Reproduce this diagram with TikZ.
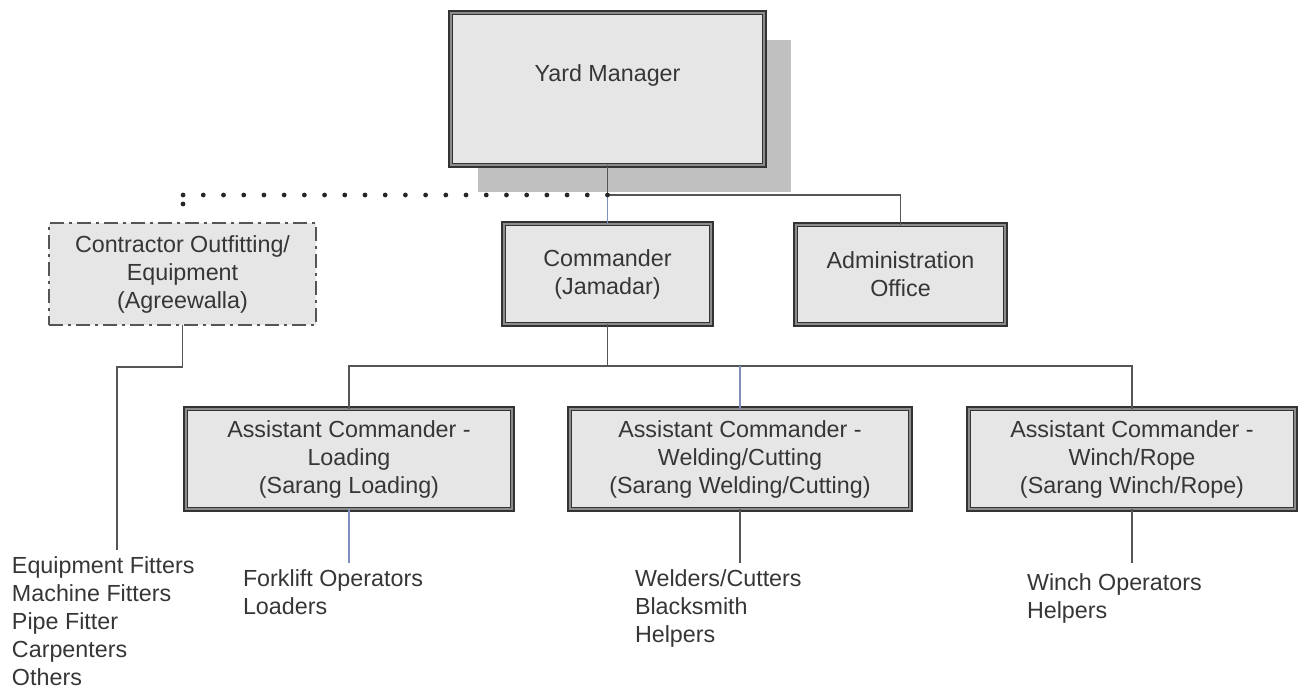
\documentclass[tikz,border=0pt]{standalone}
\usepackage{fontspec}
\setmainfont{Liberation Sans}
\usetikzlibrary{shadows}

\definecolor{boxfill}{HTML}{E6E6E6}
\definecolor{boxline}{HTML}{333333}
\definecolor{boxmid}{HTML}{8C8C8C}
\definecolor{shadowgray}{HTML}{C0C0C0}
\definecolor{connline}{HTML}{555555}
\definecolor{bluelink}{HTML}{7F8FBF}
\definecolor{txt}{HTML}{363636}

\newcommand{\orgfont}{\fontsize{23.3}{28}\selectfont}

\begin{document}
\begin{tikzpicture}[x=1pt, y=-1pt,
  orgbox/.style={draw=boxline, line width=1.6pt, double=boxmid, double distance=2.2pt,
    fill=boxfill, inner sep=0pt, outer sep=0pt, align=center, text=txt, font=\orgfont},
  extbox/.style={draw=connline, line width=2pt, dash pattern=on 14pt off 5pt on 3pt off 5pt,
    fill=boxfill, inner sep=0pt, outer sep=0pt, align=center, text=txt, font=\orgfont},
  staff/.style={anchor=north west, inner sep=0pt, outer sep=0pt, align=left, text=txt, font=\orgfont},
  conn/.style={draw=connline, line width=1.8pt},
  bluelinkline/.style={draw=bluelink, line width=1.2pt},
  dotline/.style={draw=black!85, line width=4.8pt, line cap=round, dash pattern=on 0pt off 20.21pt}
]
\useasboundingbox (0,0) rectangle (1303,691);

% top of the hierarchy
\node[orgbox, minimum width=313.5pt, minimum height=152.5pt, text height=17pt, text depth=32pt,
  drop shadow={shadow xshift=27pt, shadow yshift=-27pt, fill=shadowgray, opacity=1}]
  (ym) at (607.5,89) {Yard Manager};

% second level
\node[extbox, minimum width=267pt, minimum height=102pt] (con) at (182.5,274)
  {Contractor Outfitting/\\Equipment\\(Agreewalla)};
\node[orgbox, minimum width=207.5pt, minimum height=100.5pt] (cmd) at (607.5,274)
  {Commander\\(Jamadar)};
\node[orgbox, minimum width=209.5pt, minimum height=99.5pt] (adm) at (900.5,274.5)
  {Administration\\Office};

% assistant commanders
\node[orgbox, minimum width=326.5pt, minimum height=100.5pt] (ld) at (349,459)
  {Assistant Commander -\\Loading\\(Sarang Loading)};
\node[orgbox, minimum width=340.5pt, minimum height=100.5pt] (wd) at (740,459)
  {Assistant Commander -\\Welding/Cutting\\(Sarang Welding/Cutting)};
\node[orgbox, minimum width=326.5pt, minimum height=100.5pt] (wn) at (1132,459)
  {Assistant Commander -\\Winch/Rope\\(Sarang Winch/Rope)};

% staff lists
\node[staff] (fit) at (12,557)
  {Equipment Fitters\\Machine Fitters\\Pipe Fitter\\Carpenters\\Others};
\node[staff] (fork) at (243,570) {Forklift Operators\\Loaders};
\node[staff] (weld) at (635,570) {Welders/Cutters\\Blacksmith\\Helpers};
\node[staff] (winch) at (1027,574) {Winch Operators\\Helpers};

% junctions and free ends
\coordinate (j1) at (607.5,195);
\coordinate (jc) at (607.5,366);
\coordinate (dc) at (183,195);
\coordinate (ds) at (183,204);
\coordinate (cc) at (117,367);
\coordinate (fitend) at (117,550);
\coordinate (ldend) at (349,563);
\coordinate (wdend) at (740,563);
\coordinate (wnend) at (1132,563);

% connectors from the yard manager
\draw[conn] (ym.south) -- (j1);
\draw[conn] (j1) -| (adm.north);
\draw[bluelinkline] (j1) -- (cmd.north);
\draw[dotline] (j1) -- (dc);
\draw[dotline] (ds) -- (dc);

% commander to assistants
\draw[conn] (cmd.south) -- (jc);
\draw[conn] (jc) -| (ld.north);
\draw[conn] (jc) -| (wn.north);
\draw[bluelinkline] (jc -| wd.north) -- (wd.north);

% to the staff lists
\draw[conn] (con.south) |- (cc) -- (fitend);
\draw[bluelinkline] (ld.south) -- (ldend);
\draw[conn] (wd.south) -- (wdend);
\draw[conn] (wn.south) -- (wnend);
\end{tikzpicture}
\end{document}
